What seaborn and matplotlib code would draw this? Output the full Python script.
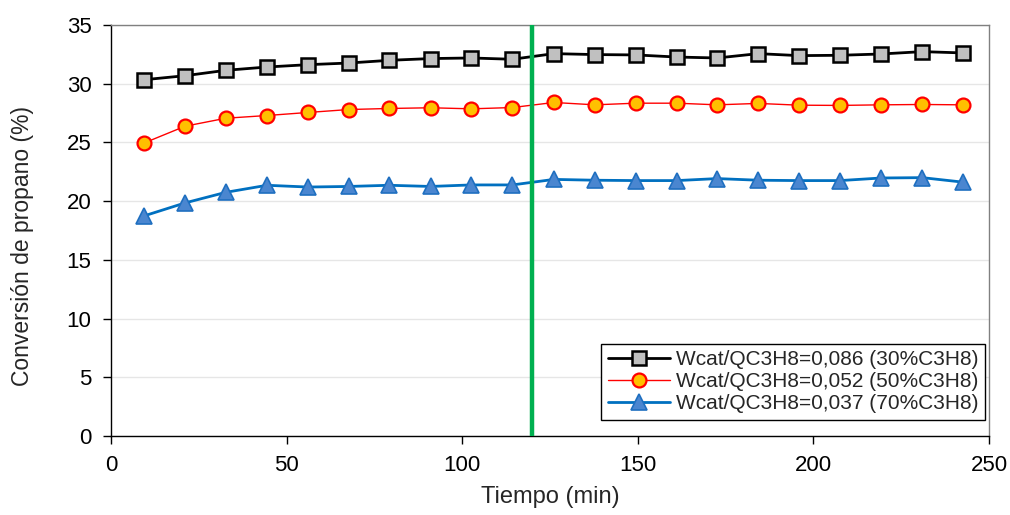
import matplotlib
matplotlib.use("Agg")
import matplotlib.pyplot as plt
import seaborn as sns
import pandas as pd

tiempo = [9.5, 21.1, 32.7, 44.4, 56.1, 67.7, 79.2, 91.0, 102.6, 114.3, 126.1,
          137.8, 149.4, 161.1, 172.6, 184.3, 195.9, 207.6, 219.3, 231.0, 242.5]
conv_30 = [30.34, 30.68, 31.14, 31.42, 31.62, 31.76, 31.99, 32.14, 32.19, 32.08, 32.56,
           32.48, 32.45, 32.27, 32.19, 32.56, 32.39, 32.42, 32.53, 32.73, 32.62]
conv_50 = [24.96, 26.38, 27.06, 27.29, 27.55, 27.80, 27.89, 27.95, 27.86, 27.97, 28.40,
           28.20, 28.34, 28.34, 28.20, 28.32, 28.17, 28.15, 28.20, 28.23, 28.20]
conv_70 = [18.75, 19.85, 20.75, 21.35, 21.20, 21.25, 21.35, 21.25, 21.38, 21.38, 21.85,
           21.78, 21.75, 21.75, 21.92, 21.78, 21.75, 21.75, 21.97, 22.00, 21.62]
labels = ["Wcat/QC3H8=0,086 (30%C3H8)",
          "Wcat/QC3H8=0,052 (50%C3H8)",
          "Wcat/QC3H8=0,037 (70%C3H8)"]
x_ticks = [0, 50, 100, 150, 200, 250]
y_ticks = [0, 5, 10, 15, 20, 25, 30, 35]
linea_vertical = 120

sns.set_style("white")
plt.rcParams['font.family'] = ['Liberation Sans', 'DejaVu Sans']

fig = plt.figure(figsize=(10.10, 5.15), dpi=100)
ax = fig.add_axes([0.1099, 0.1534, 0.8693, 0.7981])

styles = [
    dict(color="black", lw=2.0, marker="s", ms=10, mfc="#C0C0C0", mec="black", mew=1.8),
    dict(color="#FF0000", lw=1.0, marker="o", ms=10, mfc="#FFC000", mec="#FF0000", mew=1.6),
    dict(color="#0070C0", lw=2.0, marker="^", ms=11, mfc="#4A86D0", mec="#1F6FC0", mew=1.2),
]
for y, lab, st in zip([conv_30, conv_50, conv_70], labels, styles):
    df = pd.DataFrame({"t": tiempo, "c": y})
    sns.lineplot(data=df, x="t", y="c", ax=ax, label=lab,
                 color=st["color"], linewidth=st["lw"], marker=st["marker"],
                 markersize=st["ms"], markerfacecolor=st["mfc"],
                 markeredgecolor=st["mec"], markeredgewidth=st["mew"], zorder=3)

ax.axvline(linea_vertical, color="#00B050", lw=3.2, zorder=4)

ax.set_xlim(0, 250)
ax.set_ylim(0, 35)
ax.set_xticks(x_ticks)
ax.set_yticks(y_ticks)
ax.grid(axis="y", color="#E6E6E6", lw=1.0)
ax.set_axisbelow(True)
ax.tick_params(axis="both", direction="out", length=6, width=1, colors="black",
               labelsize=16, left=True, bottom=True)
ax.tick_params(axis="y", pad=8)
ax.tick_params(axis="x", pad=8)
for s in ["left", "bottom"]:
    ax.spines[s].set_color("black")
    ax.spines[s].set_linewidth(1.0)
for s in ["top", "right"]:
    ax.spines[s].set_color("#808080")
    ax.spines[s].set_linewidth(1.0)

ax.set_xlabel("Tiempo (min)", fontsize=17, labelpad=7)
ax.set_ylabel("Conversión de propano (%)", fontsize=16.5)
ax.yaxis.set_label_coords(-0.088, 0.462)

leg = ax.legend(loc="lower right", bbox_to_anchor=(0.9955, 0.04), fontsize=15,
                frameon=True, fancybox=False, edgecolor="black", framealpha=1,
                handlelength=3.0, borderpad=0.3, labelspacing=0.15,
                handletextpad=0.3, borderaxespad=0)
leg.get_frame().set_linewidth(1.0)

fig.savefig("out.png", dpi=100)
